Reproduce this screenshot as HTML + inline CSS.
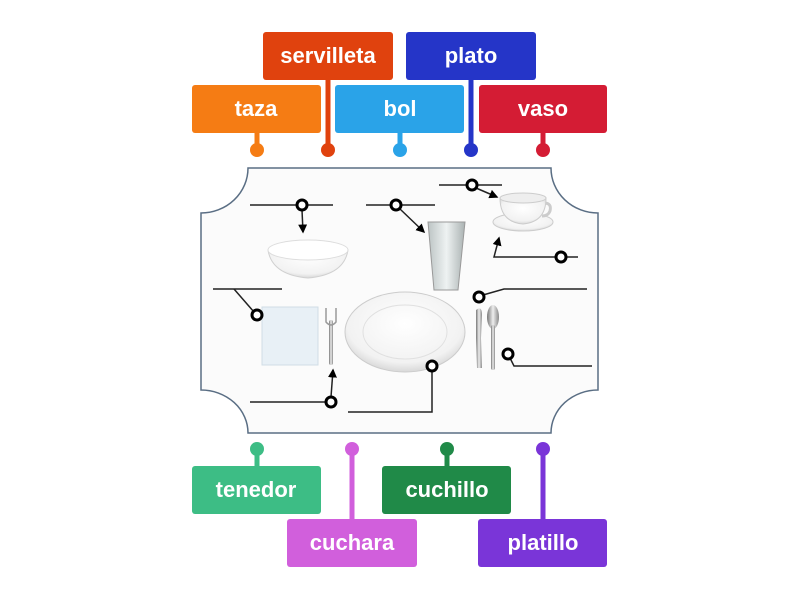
<!DOCTYPE html>
<html><head><meta charset="utf-8"><style>
body{margin:0;background:#fff;width:800px;height:600px;overflow:hidden}
svg text{font-family:"Liberation Sans",sans-serif;font-size:22px;font-weight:bold;fill:#fff;text-anchor:middle}
</style></head><body>
<svg width="800" height="600" viewBox="0 0 800 600" xmlns="http://www.w3.org/2000/svg">
<defs>
<marker id="ar" markerWidth="6" markerHeight="6" refX="5" refY="3" orient="auto"><path d="M0,0 L6,3 L0,6 z" fill="#000"/></marker>
<radialGradient id="wg" cx="50%" cy="40%" r="60%"><stop offset="0" stop-color="#fff"/><stop offset="0.8" stop-color="#f2f2f2"/><stop offset="1" stop-color="#d8d8d8"/></radialGradient>
<linearGradient id="gl" x1="0" x2="1"><stop offset="0" stop-color="#bcc4c4"/><stop offset="0.5" stop-color="#eef2f2"/><stop offset="1" stop-color="#aab2b2"/></linearGradient>
<linearGradient id="mt" x1="0" x2="1"><stop offset="0" stop-color="#777"/><stop offset="0.5" stop-color="#eee"/><stop offset="1" stop-color="#888"/></linearGradient>
</defs>
<path d="M248,168 L551,168 A47,45 0 0 0 598,213 L598,390 A47,43 0 0 0 551,433 L248,433 A47,43 0 0 0 201,390 L201,213 A47,45 0 0 0 248,168 Z" fill="#fbfbfb" stroke="#5a6e84" stroke-width="1.5"/>
<path d="M268,250 Q308,236 348,250 Q344,275 308,278 Q272,275 268,250 Z" fill="url(#wg)" stroke="#d0d0d0"/>
<ellipse cx="308" cy="250" rx="40" ry="10" fill="#fff" stroke="#ddd"/>
<path d="M428,222 L465,222 L458,290 L434,290 Z" fill="url(#gl)" stroke="#999"/>
<ellipse cx="523" cy="222" rx="30" ry="9" fill="url(#wg)" stroke="#ccc"/>
<path d="M544,203 Q552,203 550,211 Q548,216 542,216" fill="none" stroke="#ccc" stroke-width="3"/>
<path d="M500,198 L546,198 Q546,222 523,224 Q500,222 500,198 Z" fill="url(#wg)" stroke="#ccc"/>
<ellipse cx="523" cy="198" rx="23" ry="5" fill="#eee" stroke="#ccc"/>
<rect x="262" y="307" width="56" height="58" fill="#e8f0f6" stroke="#d0dde6"/>
<rect x="329" y="320" width="4" height="45" rx="2" fill="url(#mt)"/>
<path d="M326,308 L326,322 Q331,328 336,322 L336,308" fill="none" stroke="#999" stroke-width="1.5"/>
<ellipse cx="405" cy="332" rx="60" ry="40" fill="url(#wg)" stroke="#ccc"/>
<ellipse cx="405" cy="332" rx="42" ry="27" fill="none" stroke="#e0e0e0"/>
<path d="M476,310 Q482,305 482,315 L481,338 L482,368 L477,368 L476,338 Z" fill="url(#mt)"/>
<ellipse cx="493" cy="317" rx="6" ry="12" fill="url(#mt)"/>
<rect x="491" y="325" width="4" height="45" rx="2" fill="url(#mt)"/>
<g stroke="#222" stroke-width="1.5" fill="none">
<line x1="250" y1="205" x2="333" y2="205"/><line x1="302" y1="210" x2="303" y2="232" marker-end="url(#ar)"/>
<line x1="366" y1="205" x2="435" y2="205"/><line x1="400" y1="209" x2="424" y2="232" marker-end="url(#ar)"/>
<line x1="439" y1="185" x2="502" y2="185"/><line x1="476" y1="188" x2="497" y2="197" marker-end="url(#ar)"/>
<polyline points="578,257 494,257 499,238" marker-end="url(#ar)"/>
<polyline points="213,289 282,289"/><line x1="234" y1="289" x2="254" y2="312"/>
<polyline points="483,295 504,289 587,289"/>
<polyline points="510,358 514,366 592,366"/>
<line x1="250" y1="402" x2="326" y2="402"/><line x1="331" y1="397" x2="333" y2="370" marker-end="url(#ar)"/>
<polyline points="348,412 432,412 432,370"/>
</g>
<g fill="#fff" stroke="#000" stroke-width="3">
<circle cx="302" cy="205" r="5"/><circle cx="396" cy="205" r="5"/><circle cx="472" cy="185" r="5"/>
<circle cx="561" cy="257" r="5"/><circle cx="257" cy="315" r="5"/><circle cx="479" cy="297" r="5"/>
<circle cx="508" cy="354" r="5"/><circle cx="331" cy="402" r="5"/><circle cx="432" cy="366" r="5"/>
</g>
<g stroke-width="5">
<line x1="257" y1="133" x2="257" y2="150" stroke="#f57c14"/><circle cx="257" cy="150" r="7" fill="#f57c14"/>
<line x1="328" y1="80" x2="328" y2="150" stroke="#e0420e"/><circle cx="328" cy="150" r="7" fill="#e0420e"/>
<line x1="400" y1="133" x2="400" y2="150" stroke="#2aa3e8"/><circle cx="400" cy="150" r="7" fill="#2aa3e8"/>
<line x1="471" y1="80" x2="471" y2="150" stroke="#2535c8"/><circle cx="471" cy="150" r="7" fill="#2535c8"/>
<line x1="543" y1="133" x2="543" y2="150" stroke="#d41c34"/><circle cx="543" cy="150" r="7" fill="#d41c34"/>
<line x1="257" y1="449" x2="257" y2="466" stroke="#3dbd85"/><circle cx="257" cy="449" r="7" fill="#3dbd85"/>
<line x1="352" y1="449" x2="352" y2="519" stroke="#d15fdc"/><circle cx="352" cy="449" r="7" fill="#d15fdc"/>
<line x1="447" y1="449" x2="447" y2="466" stroke="#208a48"/><circle cx="447" cy="449" r="7" fill="#208a48"/>
<line x1="543" y1="449" x2="543" y2="519" stroke="#7a35d8"/><circle cx="543" cy="449" r="7" fill="#7a35d8"/>
</g>
<g>
<rect x="192" y="85" width="129" height="48" rx="3" fill="#f57c14"/><text x="256" y="116">taza</text>
<rect x="263" y="32" width="130" height="48" rx="3" fill="#e0420e"/><text x="328" y="63">servilleta</text>
<rect x="335" y="85" width="129" height="48" rx="3" fill="#2aa3e8"/><text x="400" y="116">bol</text>
<rect x="406" y="32" width="130" height="48" rx="3" fill="#2535c8"/><text x="471" y="63">plato</text>
<rect x="479" y="85" width="128" height="48" rx="3" fill="#d41c34"/><text x="543" y="116">vaso</text>
<rect x="192" y="466" width="129" height="48" rx="3" fill="#3dbd85"/><text x="256" y="497">tenedor</text>
<rect x="287" y="519" width="130" height="48" rx="3" fill="#d15fdc"/><text x="352" y="550">cuchara</text>
<rect x="382" y="466" width="129" height="48" rx="3" fill="#208a48"/><text x="447" y="497">cuchillo</text>
<rect x="478" y="519" width="129" height="48" rx="3" fill="#7a35d8"/><text x="543" y="550">platillo</text>
</g>
</svg>
</body></html>
